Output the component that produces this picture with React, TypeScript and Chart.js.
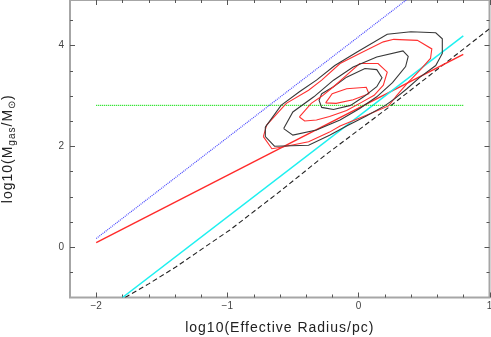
import React, { useEffect, useRef } from 'react';
import { Chart, registerables } from 'chart.js';

Chart.register(...registerables);

// Axis ranges and tick labels
const xRange = [-2.2, 1.0];
const yRange = [-1, 4.9];
const xTickValues = [-2, -1, 0, 1];
const yTickValues = [0, 2, 4];
const xTitle = 'log10(Effective Radius/pc)';
const yTitleParts = [
  { t: 'log10(M', sub: false },
  { t: 'gas', sub: true },
  { t: '/M', sub: false },
  { t: '\u2299', sub: true },
  { t: ')', sub: false },
];

// Straight / model lines
const blueDotted = [[-2, 0.17], [0.365, 4.9]];
const redLine = [[-2, 0.09], [0.8, 3.82]];
const cyanLine = [[-1.8, -1.0], [0.8, 4.19]];
const greenDotted = [[-2, 2.81], [0.8, 2.81]];
const blackDashed = [
  [-1.78, -1.0], [-1.6, -0.73], [-1.39, -0.39], [-1.2, -0.05], [-0.98, 0.34],
  [-0.62, 1.06], [-0.27, 1.79], [0.23, 2.77], [1.0, 4.33],
];

// Contours (black)
const blackOuter = [
  [-0.71, 2.38], [-0.59, 2.81], [-0.45, 3.08], [-0.32, 3.31], [-0.18, 3.6], [-0.01, 3.87],
  [0.22, 4.22], [0.4, 4.27], [0.59, 4.25], [0.64, 4.13], [0.64, 3.84], [0.59, 3.6],
  [0.47, 3.37], [0.37, 3.14], [0.28, 2.95], [0.2, 2.8], [0.06, 2.6], [-0.09, 2.4],
  [-0.22, 2.22], [-0.38, 2.02], [-0.64, 2.0], [-0.71, 2.19], [-0.71, 2.38],
];
const blackMiddle = [
  [-0.57, 2.35], [-0.5, 2.68], [-0.34, 2.98], [-0.19, 3.31], [-0.04, 3.57], [0.14, 3.77],
  [0.34, 3.89], [0.38, 3.78], [0.36, 3.58], [0.26, 3.26], [0.14, 2.98], [0.01, 2.75],
  [-0.14, 2.52], [-0.32, 2.32], [-0.5, 2.22], [-0.57, 2.35],
];
const blackInner = [
  [-0.28, 3.04], [-0.19, 3.18], [-0.09, 3.37], [0.05, 3.54], [0.14, 3.52], [0.18, 3.36],
  [0.14, 3.18], [0.04, 2.98], [-0.06, 2.81], [-0.19, 2.73], [-0.28, 2.77], [-0.3, 2.91],
  [-0.28, 3.04],
];

// Contours (red)
const redOuter = [
  [-0.725, 2.19], [-0.7, 2.42], [-0.55, 2.85], [-0.38, 3.11], [-0.28, 3.31], [-0.14, 3.64],
  [0.01, 3.84], [0.19, 4.07], [0.27, 4.12], [0.45, 4.1], [0.56, 3.93], [0.55, 3.74],
  [0.47, 3.51], [0.37, 3.24], [0.29, 3.0], [0.23, 2.8], [0.12, 2.68], [0.0, 2.55],
  [-0.14, 2.4], [-0.22, 2.28], [-0.38, 2.09], [-0.57, 1.99], [-0.66, 1.95], [-0.725, 2.19],
];
const redMiddle = [
  [-0.45, 2.58], [-0.36, 2.85], [-0.28, 2.99], [-0.19, 3.18], [-0.09, 3.41], [0.01, 3.64],
  [0.15, 3.64], [0.22, 3.47], [0.19, 3.21], [0.12, 3.01], [0.01, 2.85], [-0.09, 2.71],
  [-0.22, 2.59], [-0.32, 2.52], [-0.41, 2.5], [-0.45, 2.58],
];
const redInner = [
  [-0.25, 2.86], [-0.2, 3.04], [-0.09, 3.14], [0.06, 3.17], [0.08, 3.04], [-0.04, 2.92],
  [-0.17, 2.85], [-0.25, 2.86],
];

const FONT = '"Liberation Sans", Arial, sans-serif';

const toPts = (arr: number[][]) => arr.map(([x, y]) => ({ x, y }));
const fmt = (v: number) => (v < 0 ? '\u2212' + Math.abs(v) : String(v));

const framePlugin = {
  id: 'frameTicks',
  beforeDatasetsDraw(chart: any) {
    const { ctx, chartArea: a, scales } = chart;
    const xs = scales.x;
    const ys = scales.y;
    ctx.save();
    ctx.strokeStyle = '#a6a6a6';
    ctx.lineWidth = 2;
    ctx.strokeRect(a.left, a.top, a.right - a.left, a.bottom - a.top);
    ctx.strokeStyle = '#555';
    ctx.lineWidth = 1;
    ctx.beginPath();
    for (let i = 0; i <= 16; i++) {
      const v = xRange[0] + i * 0.2;
      if (v < xRange[0] + 1e-6 || v > xRange[1] + 1e-6) continue;
      const major = Math.abs(v - Math.round(v)) < 1e-6;
      const len = major ? 5 : 3;
      const px = Math.round(xs.getPixelForValue(v)) + 0.5;
      ctx.moveTo(px, a.bottom);
      ctx.lineTo(px, a.bottom - len);
      ctx.moveTo(px, a.top);
      ctx.lineTo(px, a.top + len);
    }
    for (let i = 0; i <= 12; i++) {
      const v = yRange[0] + i * 0.5;
      if (v <= yRange[0] + 1e-6 || v > yRange[1]) continue;
      const major = Math.abs(v / 2 - Math.round(v / 2)) < 1e-6;
      const len = major ? 5 : 3;
      const py = Math.round(ys.getPixelForValue(v)) + 0.5;
      ctx.moveTo(a.left, py);
      ctx.lineTo(a.left + len, py);
      ctx.moveTo(a.right, py);
      ctx.lineTo(a.right - len, py);
    }
    ctx.stroke();
    ctx.restore();
  },
  afterDraw(chart: any) {
    const { ctx, chartArea: a } = chart;
    ctx.save();
    ctx.fillStyle = '#222';
    // x title
    ctx.font = `14px ${FONT}`;
    (ctx as any).letterSpacing = '1px';
    ctx.textAlign = 'center';
    ctx.textBaseline = 'alphabetic';
    ctx.fillText(xTitle, (a.left + a.right) / 2, 332);
    // y title (rotated, with subscripts)
    const mainFont = `14px ${FONT}`;
    const subFont = `10px ${FONT}`;
    let total = 0;
    const widths = yTitleParts.map((p) => {
      ctx.font = p.sub ? subFont : mainFont;
      const w = ctx.measureText(p.t).width;
      total += w;
      return w;
    });
    ctx.translate(12, (a.top + a.bottom) / 2);
    ctx.rotate(-Math.PI / 2);
    ctx.textAlign = 'left';
    let cx = -total / 2;
    yTitleParts.forEach((p, i) => {
      ctx.font = p.sub ? subFont : mainFont;
      ctx.fillText(p.t, cx, p.sub ? 3 : 0);
      cx += widths[i];
    });
    ctx.restore();
  },
};

const lineDs = (label: string, data: number[][], color: string, width: number, dash: number[] = []) => ({
  label,
  data: toPts(data),
  showLine: true,
  borderColor: color,
  backgroundColor: color,
  borderWidth: width,
  borderDash: dash,
  pointRadius: 0,
  pointHoverRadius: 0,
  fill: false,
  tension: 0,
});

export default function App() {
  const ref = useRef<HTMLCanvasElement>(null);
  useEffect(() => {
    const chart = new Chart(ref.current as HTMLCanvasElement, {
      type: 'scatter',
      data: {
        datasets: [
          lineDs('blackOuter', blackOuter, '#383838', 1.1),
          lineDs('redOuter', redOuter, '#ff3030', 1.1),
          lineDs('blackMiddle', blackMiddle, '#383838', 1.1),
          lineDs('redMiddle', redMiddle, '#ff3030', 1.1),
          lineDs('blackInner', blackInner, '#383838', 1.1),
          lineDs('redInner', redInner, '#ff3030', 1.1),
          lineDs('blueDotted', blueDotted, '#4848ff', 1.2, [1, 1]),
          lineDs('greenDotted', greenDotted, '#00dd00', 1.2, [1, 1]),
          lineDs('cyanLine', cyanLine, '#1ef0f0', 1.5),
          lineDs('redLine', redLine, '#ff2a2a', 1.4),
          lineDs('blackDashed', blackDashed, '#222222', 1.1, [5, 3]),
        ],
      },
      options: {
        responsive: false,
        animation: false,
        layout: { padding: { top: 0, left: 0, right: 1.5, bottom: 0 } },
        plugins: { legend: { display: false }, tooltip: { enabled: false } },
        events: [],
        scales: {
          x: {
            type: 'linear',
            min: xRange[0],
            max: xRange[1],
            grid: { display: false, drawTicks: false },
            border: { display: false },
            ticks: {
              padding: 3,
              color: '#444',
              font: { family: FONT, size: 10 },
              autoSkip: false,
              maxRotation: 0,
              callback: (v: any) => fmt(Number(v)),
            },
            afterBuildTicks: (s: any) => {
              s.ticks = xTickValues.map((v) => ({ value: v }));
            },
            afterFit: (s: any) => {
              s.height = 39.5;
              s.paddingLeft = 0;
              s.paddingRight = 0;
            },
          },
          y: {
            type: 'linear',
            min: yRange[0],
            max: yRange[1],
            grid: { display: false, drawTicks: false },
            border: { display: false },
            ticks: {
              padding: 6,
              color: '#444',
              font: { family: FONT, size: 10 },
              autoSkip: false,
              callback: (v: any) => fmt(Number(v)),
            },
            afterBuildTicks: (s: any) => {
              s.ticks = yTickValues.map((v) => ({ value: v }));
            },
            afterFit: (s: any) => {
              s.width = 70;
              s.paddingTop = 0;
              s.paddingBottom = 0;
            },
          },
        },
      },
      plugins: [framePlugin],
    } as any);
    return () => chart.destroy();
  }, []);
  return (
    <div style={{ position: 'absolute', left: 0, top: 0, width: 491, height: 337, background: '#fff' }}>
      <canvas ref={ref} width={491} height={337} style={{ display: 'block', width: 491, height: 337 }} />
    </div>
  );
}
